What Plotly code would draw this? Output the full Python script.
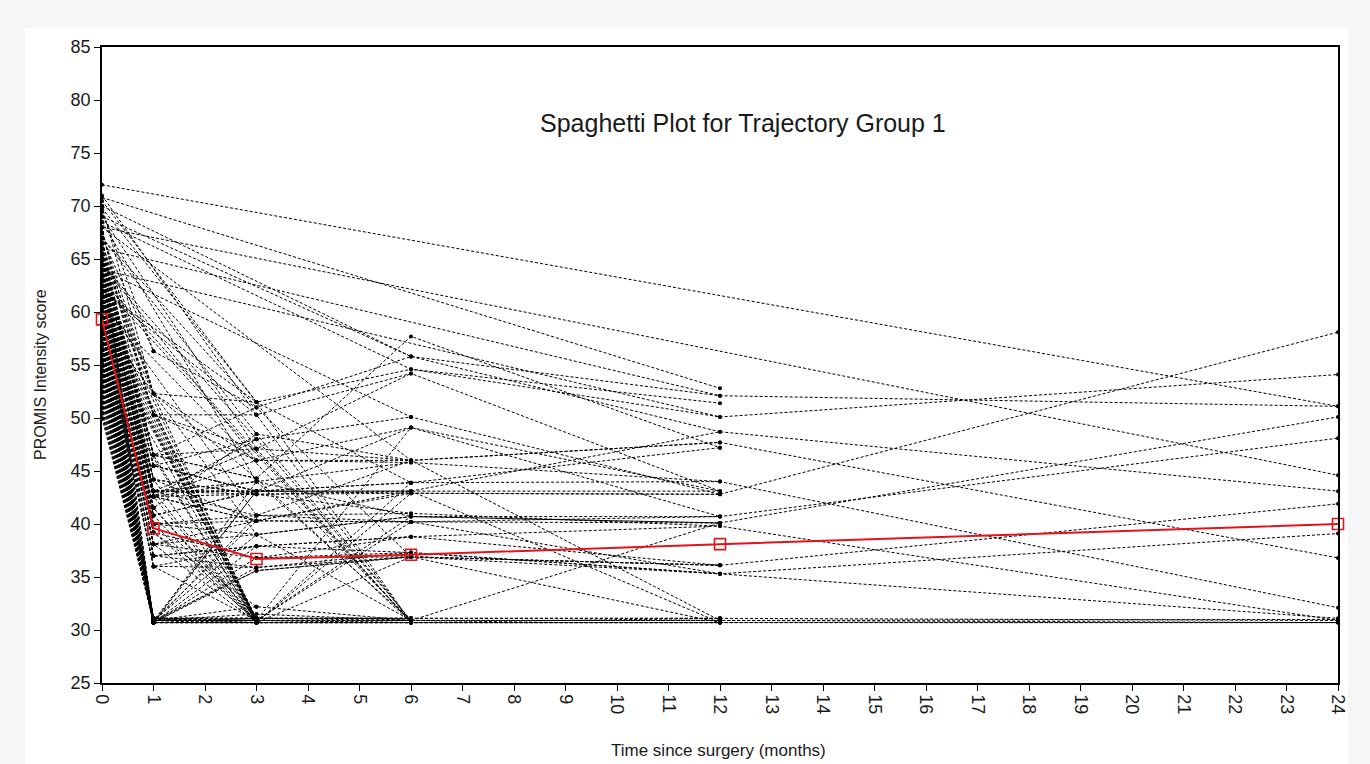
import plotly.graph_objects as go

N = None

# Measurement occasions (months since surgery)
months = [0, 1, 3, 6, 12, 24]
x_tick_labels = [str(m) for m in range(0, 25)]
y_tick_values = [25, 30, 35, 40, 45, 50, 55, 60, 65, 70, 75, 80, 85]

# Group mean trajectory (red line)
mean_scores = [59.3, 39.6, 36.7, 37.1, 38.1, 40.0]

# Individual trajectories, values at months 0, 1, 3, 6, 12, 24 (None = missing)
followed_to_24 = [
    [72.0, N, N, N, N, 51.1],
    [68.0, N, N, N, N, 44.6],
    [66.0, N, N, N, 52.1, 51.1],
    [64.0, N, N, N, 50.1, 54.1],
    [61.0, 40.8, 43.1, 42.9, 42.8, 58.1],
    [62.5, 44.2, 40.3, 40.2, 40.1, 50.1],
    [60.0, 38.1, 39.0, 40.7, 40.7, 48.1],
    [59.0, 30.7, 36.8, 36.9, 36.1, 41.9],
    [58.0, 36.0, 35.9, 37.3, 35.3, 39.1],
    [65.0, 46.5, 47.1, 46.0, 47.7, 36.8],
    [63.0, 43.1, 44.0, 45.8, 44.0, 32.1],
    [63.5, 42.6, 42.8, 43.1, 48.7, 43.1],
    [57.0, 30.9, 30.9, 30.9, 30.9, 31.0],
    [56.0, 30.7, 30.7, 30.7, 30.7, 30.7],
    [55.0, 31.1, 31.1, 31.1, 31.1, 30.9],
    [62.0, 41.5, 30.7, 30.7, 30.7, 30.7],
    [60.5, 39.2, 32.2, 30.9, 30.9, 30.7],
    [59.5, 37.0, 37.9, 38.8, 39.8, 30.9],
    [58.5, 30.9, 35.6, 36.9, 35.3, 31.1],
]

followed_to_12 = [
    [70.8, N, N, N, 52.8],
    [69.8, N, 51.5, 54.6, 51.4],
    [67.5, 52.3, 44.3, 57.7, 47.2],
    [67.0, 56.3, 51.0, 55.8, 48.7],
    [66.5, 50.3, 50.3, 54.2, 43.1],
    [65.5, 45.5, 48.0, 50.1, 42.8],
    [64.5, N, 46.0, 49.1, 40.7],
    [61.5, 40.0, 40.8, 41.0, 39.8],
    [60.0, 37.0, 37.9, 38.8, 36.1],
    [59.5, 30.7, 35.6, 36.9, 30.7],
    [57.5, 30.9, 31.5, 30.9, 30.9],
    [56.5, 30.7, 30.7, 30.7, 30.7],
    [55.5, 31.1, 31.1, 31.1, 31.1],
    [54.0, N, 30.7, 30.7, 30.7],
    [58.0, N, 30.9, 40.2, 35.3],
    [63.0, 43.1, 43.1, 43.9, 44.0],
    [62.0, 42.6, 40.3, 43.1, 30.7],
    [69.0, N, N, 55.8, 52.1],
    [68.5, N, N, 54.6, 50.1],
    [67.0, N, 48.5, 46.0, 47.7],
    [65.0, 45.5, 43.1, 43.1, 43.1],
    [64.0, 44.2, 42.8, 42.9, 42.8],
    [62.5, 42.6, 44.0, 40.7, 40.1],
    [61.0, N, 40.8, 40.2, 40.7],
    [60.5, 38.1, 36.8, 37.3, 35.3],
    [59.0, 30.7, 30.7, 36.9, 36.1],
    [58.5, 30.9, 30.9, 30.9, 40.1],
    [57.0, 31.1, 30.7, 30.7, 31.1],
    [55.0, 30.7, 31.1, 30.9, 30.9],
    [60.0, 30.7, 40.8, 46.0, 30.9],
    [58.0, 30.9, 43.1, 49.1, 43.1],
    [62.0, 40.8, 30.7, 43.9, 47.2],
    [59.0, 36.0, 30.9, 40.7, 40.1],
    [64.0, 46.5, 51.0, 36.9, 36.1],
    [66.0, 43.1, 47.1, 30.7, 30.7],
]

followed_to_6 = [
    [64.0, N, N, 50.1],
    [63.0, 42.6, 46.0, 46.0],
    [62.0, N, 51.5, 43.9],
    [61.0, 40.8, 43.1, 43.1],
    [60.0, 38.1, 40.3, 42.9],
    [59.0, N, 39.0, 40.7],
    [58.0, 36.0, 37.9, 37.3],
    [62.5, N, N, 30.7],
    [60.5, N, N, 30.9],
    [57.0, 30.7, 30.7, 30.7],
    [56.0, 30.9, 30.9, 30.9],
    [54.5, 31.1, 31.1, 31.1],
    [65.0, 46.5, 44.3, 30.7],
    [61.5, 41.5, 48.5, 30.9],
    [59.5, 39.2, 36.8, 38.8],
    [66.0, 50.3, 47.1, 54.2],
    [70.0, N, N, 55.8],
    [68.0, N, N, 46.0],
    [66.5, 52.3, 46.0, 45.8],
    [64.5, 43.1, 43.1, 43.9],
    [63.5, 43.1, 42.8, 41.0],
    [60.0, 40.0, 40.3, 40.2],
    [58.5, 37.0, 35.9, 36.9],
    [61.0, N, 30.7, 30.9],
    [55.5, 30.7, 30.9, 30.7],
    [53.5, 30.9, 31.1, 31.1],
    [63.0, N, N, 30.7],
    [61.5, 43.1, 30.7, 42.9],
    [60.5, 30.7, 44.0, 30.9],
    [65.5, 52.3, 51.5, 30.7],
    [62.0, N, 50.3, 30.7],
    [57.0, 30.9, 39.0, 30.9],
    [59.0, 31.1, 30.9, 49.1],
    [63.0, 42.6, 48.0, 30.9],
]

followed_to_3 = [
    [71.0, N, 50.3],
    [69.0, N, 47.1],
    [68.5, N, 44.0],
    [66.0, 45.5, 43.1],
    [65.0, 44.2, 42.8],
    [64.0, 43.1, 40.8],
    [63.0, N, 30.7],
    [62.0, N, 30.9],
    [61.0, N, 30.7],
    [60.0, N, 31.1],
    [59.0, N, 30.7],
    [58.0, N, 30.9],
    [57.0, 30.7, 30.7],
    [56.0, 30.9, 30.9],
    [55.0, 31.1, 31.1],
    [53.0, 30.7, 35.9],
    [52.0, 30.9, 32.2],
    [61.5, 40.0, 39.0],
    [67.0, N, 51.0],
    [64.5, N, 48.0],
    [70.5, N, 51.5],
    [67.5, 50.3, 46.0],
    [66.0, 46.5, 44.3],
    [65.5, 45.5, 43.1],
    [63.5, 43.1, 43.1],
    [62.5, 42.6, 40.3],
    [60.5, N, 30.7],
    [59.5, N, 30.9],
    [58.5, N, 30.7],
    [57.5, N, 31.1],
    [56.5, N, 30.7],
    [54.0, 30.7, 30.7],
    [51.0, 30.9, 30.9],
    [66.0, 46.5, 30.7],
    [65.0, 44.2, 30.9],
    [64.0, 42.6, 30.7],
    [63.0, 41.5, 31.1],
    [62.0, 40.0, 30.7],
    [61.0, 39.2, 30.9],
    [60.0, 38.1, 30.7],
    [58.0, 30.7, 37.9],
    [56.0, 30.9, 40.3],
    [55.0, 30.7, 43.1],
]

followed_to_1 = [
    [70.0, 52.3], [69.5, 56.3], [68.0, 46.5], [66.5, 43.1], [65.5, 42.6],
    [64.5, 41.5], [63.5, 40.0], [62.5, 39.2], [61.5, 38.1], [60.5, 37.0],
    [59.5, 36.0], [64.0, 30.7], [63.0, 30.9], [62.0, 30.7], [61.0, 31.1],
    [60.0, 30.7], [59.0, 30.9], [58.0, 30.7], [57.5, 31.1], [56.5, 30.7],
    [55.5, 30.9], [54.5, 30.7], [53.5, 31.1], [52.5, 30.7], [51.5, 30.9],
    [50.5, 30.7], [50.0, 30.9], [67.0, 44.2], [65.0, 40.8], [63.0, 39.2],
    [61.0, 38.1], [58.5, 30.7], [57.0, 30.9], [56.0, 30.7], [55.0, 31.1],
    [54.0, 30.7], [53.0, 30.9], [52.0, 30.7], [51.0, 31.1], [57.5, 30.7],
    [60.5, 30.9], [62.5, 30.7], [66.0, 30.7], [65.0, 30.9], [59.5, 31.1],
    [58.0, 30.9], [56.5, 31.1], [54.5, 30.9], [52.5, 31.1], [50.5, 30.9],
]

# ---- build one trace for all subjects (None breaks between subjects) ----
xs, ys = [], []
for group in (followed_to_24, followed_to_12, followed_to_6, followed_to_3, followed_to_1):
    for row in group:
        for m, v in zip(months, row):
            if v is not None:
                xs.append(m)
                ys.append(v)
        xs.append(None)
        ys.append(None)

fig = go.Figure()
fig.add_trace(go.Scatter(
    x=xs, y=ys, mode="lines+markers",
    line=dict(color="black", width=1, dash="3px,2px"),
    marker=dict(color="black", size=4),
    cliponaxis=False, hoverinfo="skip", showlegend=False,
))
fig.add_trace(go.Scatter(
    x=months, y=mean_scores, mode="lines+markers",
    line=dict(color="#e2141b", width=2),
    marker=dict(symbol="square-open", size=11, color="#e2141b", line=dict(width=1.6, color="#e2141b")),
    cliponaxis=False, hoverinfo="skip", showlegend=False,
))

FONT = "Liberation Sans, Arial, sans-serif"
L, R, T, B = 102, 32, 47, 81
W, H = 1370, 764
pw, ph = W - L - R, H - T - B

def px_x(px):
    return (px - L) / pw

def px_y(py):
    return (H - B - py) / ph

axis_common = dict(
    showline=True, linecolor="black", linewidth=1.5, mirror=True,
    ticks="outside", ticklen=6, tickwidth=1.2, tickcolor="black",
    showgrid=False, zeroline=False,
    tickfont=dict(family=FONT, size=18, color="#1a1a1a"),
)

fig.update_layout(
    width=W, height=H,
    margin=dict(l=L, r=R, t=T, b=B),
    paper_bgcolor="#f6f6f6",
    plot_bgcolor="white",
    font=dict(family=FONT, color="#1a1a1a"),
    xaxis=dict(range=[0, 24], tickmode="array",
               tickvals=list(range(0, 25)), ticktext=x_tick_labels,
               tickangle=90, **axis_common),
    yaxis=dict(range=[25, 85], tickmode="array", tickvals=y_tick_values,
               ticktext=[str(v) for v in y_tick_values], **axis_common),
    shapes=[dict(type="rect", xref="paper", yref="paper", layer="below",
                 x0=px_x(25), x1=px_x(1348), y0=px_y(764), y1=px_y(28),
                 fillcolor="white", line=dict(width=0))],
    annotations=[
        dict(text="Spaghetti Plot for Trajectory Group 1", xref="paper", yref="paper",
             x=px_x(743), y=px_y(123), showarrow=False,
             font=dict(family=FONT, size=25, color="#1a1a1a"),
             xanchor="center", yanchor="middle"),
        dict(text="PROMIS Intensity score", xref="paper", yref="paper",
             x=px_x(40), y=px_y(375), showarrow=False, textangle=-90,
             font=dict(family=FONT, size=16, color="#1a1a1a"),
             xanchor="center", yanchor="middle"),
        dict(text="Time since surgery (months)", xref="paper", yref="paper",
             x=px_x(718), y=px_y(750), showarrow=False,
             font=dict(family=FONT, size=17, color="#1a1a1a"),
             xanchor="center", yanchor="middle"),
    ],
)

fig.write_html("out.html", config={"displayModeBar": False},
               post_script="document.body.style.margin='0';")
